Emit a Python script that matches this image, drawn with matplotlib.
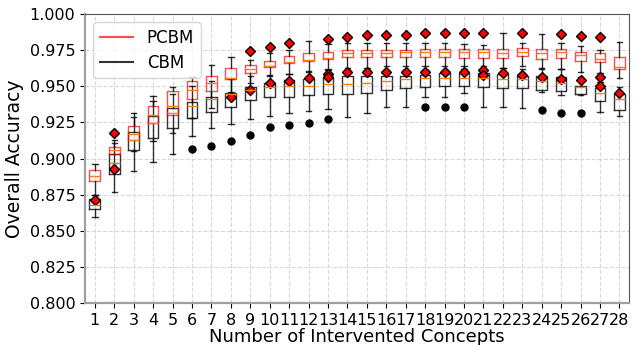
import matplotlib
matplotlib.use("Agg")
from matplotlib import pyplot as plt
from matplotlib.lines import Line2D
import numpy as np

concepts = list(range(1, 29))

# PCBM box stats
pcbm_q1 = [0.8845, 0.903, 0.913, 0.9243, 0.930, 0.941, 0.9467, 0.955, 0.9595, 0.9637,
           0.9659, 0.9675, 0.9689, 0.970, 0.970, 0.9705, 0.9705, 0.9705, 0.970, 0.9698,
           0.9698, 0.9698, 0.971, 0.9686, 0.9698, 0.9677, 0.9668, 0.9617]
pcbm_med = [0.888, 0.906, 0.917, 0.930, 0.9363, 0.9474, 0.952, 0.956, 0.9617, 0.964,
            0.967, 0.9682, 0.9696, 0.9728, 0.9733, 0.9728, 0.974, 0.974, 0.974, 0.974,
            0.974, 0.9733, 0.974, 0.9728, 0.974, 0.9716, 0.9686, 0.9637]
pcbm_q3 = [0.892, 0.908, 0.9225, 0.9363, 0.947, 0.954, 0.957, 0.9624, 0.9651, 0.9677,
           0.971, 0.9732, 0.974, 0.9751, 0.9751, 0.9755, 0.9755, 0.9762, 0.9762, 0.9762,
           0.9762, 0.9762, 0.9767, 0.9762, 0.9762, 0.974, 0.973, 0.9705]
pcbm_lo = [0.875, 0.897, 0.905, 0.912, 0.918, 0.928, 0.935, 0.946, 0.952, 0.957,
           0.9585, 0.960, 0.962, 0.963, 0.963, 0.964, 0.964, 0.964, 0.964, 0.964,
           0.964, 0.963, 0.964, 0.962, 0.962, 0.960, 0.959, 0.956]
pcbm_hi = [0.896, 0.913, 0.929, 0.943, 0.9493, 0.9566, 0.9647, 0.9705, 0.9682, 0.973,
           0.9755, 0.9815, 0.979, 0.9797, 0.9797, 0.980, 0.980, 0.980, 0.980, 0.9792,
           0.9786, 0.9866, 0.980, 0.9862, 0.980, 0.9777, 0.9755, 0.9804]
pcbm_out = [[0.871], [0.9177, 0.8927], [], [], [], [], [], [0.9423], [0.9744, 0.9474],
            [0.9774, 0.9525], [0.980, 0.9539], [0.956], [0.9827, 0.9585, 0.9566],
            [0.9839, 0.960], [0.9855, 0.960], [0.9855, 0.960], [0.9855, 0.960],
            [0.9866, 0.960], [0.9866, 0.960], [0.9866, 0.960], [0.9866, 0.9613, 0.9578],
            [0.9594], [0.9866, 0.9578], [0.9562], [0.986, 0.955], [0.9848, 0.9543],
            [0.9839, 0.9568, 0.9502], [0.9451]]

# CBM box stats
cbm_q1 = [0.865, 0.889, 0.906, 0.914, 0.9209, 0.928, 0.932, 0.9358, 0.9405, 0.9423,
          0.9423, 0.9442, 0.9446, 0.9446, 0.9455, 0.9474, 0.9486, 0.9497, 0.9502, 0.9502,
          0.9493, 0.9486, 0.9486, 0.9474, 0.947, 0.9444, 0.9398, 0.9336]
cbm_med = [0.868, 0.897, 0.913, 0.9246, 0.9313, 0.9363, 0.9415, 0.9446, 0.9474, 0.9497,
           0.9502, 0.9505, 0.9513, 0.9515, 0.9525, 0.954, 0.9548, 0.9555, 0.956, 0.9555,
           0.9555, 0.9548, 0.9548, 0.954, 0.952, 0.9493, 0.9455, 0.9412]
cbm_q3 = [0.872, 0.903, 0.9185, 0.9294, 0.9347, 0.939, 0.9423, 0.9455, 0.9493, 0.952,
          0.9543, 0.9548, 0.9566, 0.957, 0.957, 0.957, 0.957, 0.9578, 0.9589, 0.9589,
          0.9589, 0.9585, 0.957, 0.9573, 0.9562, 0.9505, 0.949, 0.9446]
cbm_lo = [0.8595, 0.877, 0.8916, 0.8978, 0.9028, 0.9156, 0.921, 0.9239, 0.9273, 0.9296,
          0.9317, 0.9329, 0.9343, 0.9285, 0.9317, 0.9354, 0.9358, 0.9423, 0.9428, 0.9455,
          0.9358, 0.9358, 0.9347, 0.9464, 0.9439, 0.9442, 0.9324, 0.9294]
cbm_hi = [0.875, 0.911, 0.9317, 0.940, 0.945, 0.950, 0.9535, 0.955, 0.957, 0.958,
          0.9585, 0.9606, 0.961, 0.961, 0.961, 0.961, 0.961, 0.961, 0.961, 0.962,
          0.962, 0.963, 0.962, 0.963, 0.962, 0.9566, 0.953, 0.9493]
cbm_out = [[], [], [], [], [], [0.9063], [0.909], [0.912], [0.9163], [0.9216],
           [0.9232], [0.9248], [0.9271], [], [], [], [], [0.9358], [0.9358], [0.9358],
           [], [], [], [0.9336], [0.9313], [0.9315], [], []]


def make_stats(q1, med, q3, lo, hi, out):
    return [dict(q1=a, med=b, q3=c, whislo=d, whishi=e, fliers=f)
            for a, b, c, d, e, f in zip(q1, med, q3, lo, hi, out)]


fig, ax = plt.subplots(figsize=(6.4, 3.45), dpi=100)
fig.subplots_adjust(left=0.133, right=0.983, bottom=0.122, top=0.959)

ax.grid(True, linestyle='--', color='#d8d8d8', linewidth=0.8)
ax.set_axisbelow(True)

ax.bxp(make_stats(cbm_q1, cbm_med, cbm_q3, cbm_lo, cbm_hi, cbm_out),
       positions=concepts, widths=0.55,
       boxprops=dict(color='black', alpha=0.8, linewidth=1),
       whiskerprops=dict(color='black', alpha=0.8),
       capprops=dict(color='black', alpha=0.8),
       medianprops=dict(color='#ff7f0e'),
       flierprops=dict(marker='o', markerfacecolor='black', markeredgecolor='black',
                       markersize=5))

ax.bxp(make_stats(pcbm_q1, pcbm_med, pcbm_q3, pcbm_lo, pcbm_hi, pcbm_out),
       positions=concepts, widths=0.55,
       boxprops=dict(color='red', alpha=0.7, linewidth=1),
       whiskerprops=dict(color='black', alpha=0.8),
       capprops=dict(color='black', alpha=0.8),
       medianprops=dict(color='#ff7f0e'),
       flierprops=dict(marker='D', markerfacecolor='red', markeredgecolor='black',
                       markersize=5.5))

ax.set_xlim(0.5, 28.5)
ax.set_ylim(0.8, 1.0)
ax.set_yticks(np.arange(0.8, 1.0001, 0.025))
ax.set_yticklabels(['%.3f' % v for v in np.arange(0.8, 1.0001, 0.025)])
ax.set_xticks(concepts)
ax.set_xticklabels([str(c) for c in concepts])
ax.tick_params(labelsize=11.5)
ax.set_xlabel('Number of Intervented Concepts', fontsize=13, labelpad=0)
ax.set_ylabel('Overall Accuracy', fontsize=13.5)

for s in ['left', 'bottom']:
    ax.spines[s].set_color('#a0a0a0')
    ax.spines[s].set_linewidth(1.6)
for s in ['top', 'right']:
    ax.spines[s].set_color('#555555')

handles = [Line2D([], [], color='red', alpha=0.7), Line2D([], [], color='black', alpha=0.8)]
ax.legend(handles, ['PCBM', 'CBM'], loc='upper left', fontsize=12, labelspacing=0.4)

fig.savefig('out.png')
